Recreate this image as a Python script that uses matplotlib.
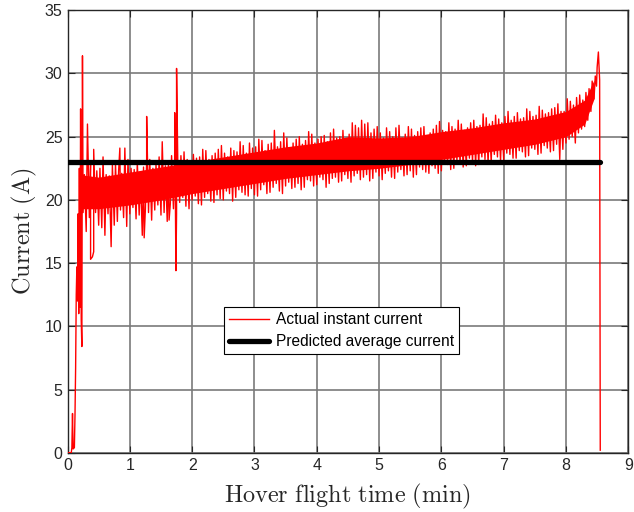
import matplotlib.pyplot as plt
import numpy as np

plt.rcParams['font.family'] = ['Liberation Sans', 'DejaVu Sans']
plt.rcParams['mathtext.fontset'] = 'cm'

# measured current: start-up transient (time in min, current in A)
start_t = [0.0, 0.06, 0.07, 0.08, 0.09, 0.11, 0.12, 0.13, 0.14, 0.15, 0.16, 0.17,
           0.18, 0.19, 0.20, 0.21, 0.22, 0.23, 0.24, 0.25, 0.27]
start_i = [0.0, 0.0, 0.4, 3.1, 0.3, 0.4, 3.0, 6.7, 12.5, 14.7, 12.0, 18.9,
           11.0, 22.5, 11.5, 27.2, 10.5, 8.4, 31.4, 19.0, 22.0]

# hover phase: lower / upper swings of the current, two per 0.1 min
hover_t = np.round(np.arange(0.3, 8.41, 0.1), 2)
hover_hi = [26.0, 24.0, 22.5, 22.0, 22.8, 22.3, 24.1, 22.5, 23.0, 22.6,
            23.2, 22.8, 24.6, 23.0, 23.3, 23.5, 23.2, 23.6, 23.4, 23.9,
            23.5, 24.0, 23.7, 24.1, 23.8, 24.3, 24.5, 24.2, 24.7, 24.4,
            25.5, 24.6, 24.9, 24.5, 25.0, 24.7, 25.2, 24.8, 25.1, 25.3,
            24.9, 25.5, 25.2, 25.9, 26.3, 26.1, 25.6, 25.3, 25.7, 25.0,
            25.9, 25.2, 25.6, 25.4, 25.8, 25.3, 25.9, 25.5, 26.1, 25.6,
            26.0, 25.7, 26.3, 25.9, 26.5, 26.2, 26.4, 26.6, 26.3, 26.9,
            26.5, 27.0, 26.7, 27.1, 26.9, 27.3, 27.0, 28.0, 27.5, 28.3,
            28.5, 29.4]
hover_lo = [17.5, 15.5, 18.0, 17.2, 16.3, 18.3, 18.6, 18.9, 18.5, 17.2,
            19.0, 19.2, 18.8, 18.3, 19.3, 19.8, 19.5, 20.0, 19.7, 20.2,
            19.9, 20.4, 20.0, 20.5, 20.2, 20.6, 20.3, 20.4, 20.8, 20.5,
            21.0, 20.7, 21.1, 20.9, 21.3, 21.0, 21.5, 21.2, 21.6, 21.3,
            21.8, 21.5, 21.7, 21.9, 21.6, 22.0, 21.7, 21.9, 22.1, 21.8,
            22.2, 21.9, 22.3, 22.0, 22.4, 22.1, 22.5, 22.3, 22.8, 22.5,
            22.9, 22.7, 23.0, 22.8, 23.2, 23.0, 23.4, 23.2, 23.6, 23.3,
            23.8, 23.5, 24.0, 23.7, 24.1, 23.9, 23.2, 24.5, 25.0, 25.3,
            25.8, 27.0]
hover_hi2 = [23.0, 22.3, 23.4, 21.9, 22.9, 22.1, 23.2, 22.4, 22.0, 23.1,
             22.5, 23.4, 22.7, 23.5, 22.9, 23.8, 22.9, 23.3, 24.0, 23.2,
             23.7, 24.3, 23.4, 23.9, 24.6, 23.7, 24.1, 24.8, 23.9, 24.5,
             24.2, 25.3, 24.1, 24.8, 24.4, 25.4, 24.5, 25.0, 24.6, 25.6,
             25.0, 24.8, 26.1, 25.7, 26.0, 25.3, 25.8, 24.9, 25.4, 25.7,
             24.9, 25.8, 25.1, 25.7, 25.0, 25.6, 26.2, 25.4, 25.8, 26.3,
             25.5, 26.1, 25.8, 26.8, 26.0, 26.7, 26.1, 27.0, 26.6, 26.4,
             27.2, 26.6, 27.4, 26.8, 27.2, 27.6, 27.0, 27.8, 28.1, 27.9,
             28.8, 29.8]
hover_lo2 = [18.6, 19.0, 17.8, 18.9, 18.0, 19.2, 17.9, 19.4, 18.8, 19.3,
             18.4, 19.6, 19.0, 19.7, 18.9, 20.2, 19.3, 20.3, 19.6, 20.5,
             19.8, 20.1, 20.7, 19.9, 20.8, 20.4, 20.9, 20.3, 21.2, 20.6,
             21.3, 20.5, 21.4, 21.0, 20.8, 21.6, 21.1, 21.8, 21.0, 21.7,
             21.4, 22.0, 21.4, 22.1, 21.8, 21.5, 22.2, 21.6, 22.3, 21.7,
             22.4, 22.0, 21.8, 22.6, 22.2, 22.7, 22.1, 23.0, 22.4, 23.1,
             22.6, 23.3, 22.7, 23.4, 22.9, 23.6, 23.1, 23.7, 23.3, 23.9,
             23.4, 24.1, 23.6, 24.3, 23.8, 24.4, 24.0, 24.8, 24.5, 25.6,
             26.3, 28.0]

# isolated spikes during hover
spike_t = [0.37, 0.42, 0.84, 1.23, 1.27, 1.63, 1.72, 1.74, 1.75]
spike_i = [15.3, 15.9, 24.1, 17.0, 26.6, 18.4, 26.9, 14.4, 30.4]

# end of flight: final surge then cut-off
end_t = [8.49, 8.50, 8.52, 8.54, 8.55]
end_i = [29.0, 30.5, 31.7, 29.5, 0.2]

# dense part of the signal
band_t = [0.2, 0.5, 1.0, 1.5, 2.0, 2.5, 3.0, 3.5, 4.0, 4.5, 5.0, 5.5, 6.0,
          6.5, 7.0, 7.5, 8.0, 8.3, 8.45]
band_lo = [19.3, 19.3, 19.6, 20.0, 20.5, 20.9, 21.3, 21.7, 22.0, 22.3, 22.5,
           22.8, 23.2, 23.6, 24.0, 24.4, 25.0, 26.0, 28.0]
band_hi = [22.0, 21.8, 22.2, 22.6, 23.0, 23.4, 23.8, 24.2, 24.5, 25.0, 24.9,
           25.0, 25.4, 25.7, 26.1, 26.4, 27.0, 27.9, 29.5]

predicted_avg = 23.0
flight_end = 8.55

# assemble one continuous trace
zig_t = np.column_stack([hover_t, hover_t + 0.02,
                         hover_t + 0.05, hover_t + 0.07]).ravel()
zig_i = np.column_stack([hover_lo, hover_hi, hover_lo2, hover_hi2]).ravel()
t_all = np.concatenate([start_t, zig_t, spike_t, end_t])
i_all = np.concatenate([start_i, zig_i, spike_i, end_i])
order = np.argsort(t_all, kind='stable')
t_all, i_all = t_all[order], i_all[order]

fig = plt.figure(figsize=(6.34, 5.12), dpi=100)
ax = fig.add_axes([0.1065, 0.1158, 0.8845, 0.8641])

ax.fill_between(band_t, band_lo, band_hi, color='#ff0000', lw=0, zorder=2)
ax.plot(t_all, i_all, color='#ff0000', lw=1.0, zorder=3,
        label='Actual instant current')
ax.plot([0, flight_end], [predicted_avg, predicted_avg], color='black', lw=3.8,
        solid_capstyle='round', zorder=4, label='Predicted average current')

ax.set_xlim(0, 9)
ax.set_ylim(0, 35)
ax.set_xticks(range(0, 10))
ax.set_yticks(range(0, 36, 5))
ax.grid(True, color='#7a7a7a', lw=1.2)
ax.set_axisbelow(True)
ax.tick_params(direction='in', top=True, right=True, length=5,
               labelsize=11.5, colors='#262626')
for s in ax.spines.values():
    s.set_color('#262626')
    s.set_linewidth(1.0)

ax.set_xlabel(r'$\mathrm{Hover\ flight\ time\ (min)}$', fontsize=17.5,
              color='#262626', labelpad=7)
ax.set_ylabel(r'$\mathrm{Current\ (A)}$', fontsize=17.5, color='#262626',
              labelpad=4)

leg = ax.legend(loc='upper left', bbox_to_anchor=(0.279, 0.3287),
                fontsize=11.2, fancybox=False, framealpha=1, edgecolor='black',
                handlelength=2.6, handletextpad=0.45, borderpad=0.3,
                labelspacing=0.45, borderaxespad=0)
leg.get_frame().set_linewidth(0.8)

fig.savefig('out.png', dpi=100)
